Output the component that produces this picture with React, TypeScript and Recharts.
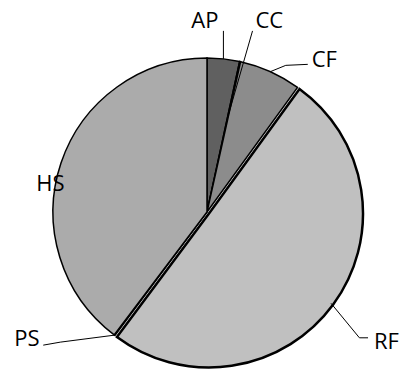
import React from "react";
import { PieChart, Pie, Cell } from "recharts";

// Slice order runs clockwise from 12 o'clock.
const CATEGORIES = ["AP", "CC", "CF", "RF", "PS", "HS"];
const SHARES = [3.4, 0.1, 6.5, 50.2, 0.1, 39.7];
const FILLS = ["#606060", "#3a3a3a", "#8c8c8c", "#c0c0c0", "#4a4a4a", "#ababab"];

const data = CATEGORIES.map((name, i) => ({ name, value: SHARES[i] }));

const RAD = Math.PI / 180;

// Label placement relative to the slice's point on the outer arc.
// leader: polyline points (offsets), text: [dx, dy, anchor]
type LabelSpec = {
  leader: [number, number][];
  text: [number, number, "start" | "middle" | "end"];
  inner?: number; // leader goes into the pie to this fraction of r
};
const LABELS: Record<string, LabelSpec> = {
  AP: { leader: [[0, -28]], text: [-5, -31, "end"] },
  CC: { leader: [[12.4, -30.7]], text: [15.4, -33.7, "start"], inner: 0.64 },
  CF: { leader: [[15.4, -6.3], [37.4, -7.3]], text: [41.4, -4.8, "start"] },
  RF: { leader: [[28.4, 34.5], [37, 34.5]], text: [43, 45.5, "start"] },
  PS: { leader: [[-54.3, 7], [-71.3, 10]], text: [-75, 11, "end"] },
  HS: { leader: [], text: [-10.5, 28, "middle"] },
};

function renderLabel(props: any) {
  const { cx, cy, midAngle, outerRadius, name } = props;
  const spec = LABELS[name];
  if (!spec) return null;
  const ax = cx + outerRadius * Math.cos(-midAngle * RAD);
  const ay = cy + outerRadius * Math.sin(-midAngle * RAD);
  const start = spec.inner
    ? [
        cx + outerRadius * spec.inner * Math.cos(-midAngle * RAD),
        cy + outerRadius * spec.inner * Math.sin(-midAngle * RAD),
      ]
    : [ax, ay];
  const pts = [start, ...spec.leader.map(([dx, dy]) => [ax + dx, ay + dy])];
  return (
    <g key={`lbl-${name}`}>
      {spec.leader.length > 0 && (
        <polyline
          points={pts.map((p) => p.join(",")).join(" ")}
          fill="none"
          stroke="#000"
          strokeWidth={1}
        />
      )}
      <text
        x={ax + spec.text[0]}
        y={ay + spec.text[1]}
        textAnchor={spec.text[2]}
        fontFamily="'Open Sans', sans-serif"
        fontSize={22}
        fill="#000"
      >
        {name}
      </text>
    </g>
  );
}

export default function App() {
  return (
    <div
      style={{
        position: "absolute",
        left: 0,
        top: 0,
        width: 402,
        height: 370,
        background: "#fff",
      }}
    >
      <PieChart width={402} height={370} margin={{ top: 0, right: 0, bottom: 0, left: 0 }}>
        <Pie
          data={data}
          dataKey="value"
          nameKey="name"
          cx={207}
          cy={212}
          outerRadius={154}
          startAngle={90}
          endAngle={-270}
          stroke="#000"
          strokeWidth={1.5}
          label={renderLabel}
          labelLine={false}
          isAnimationActive={false}
        >
          {data.map((d, i) =>
            d.name === "RF" ? (
              // exploded slightly, heavier outline
              <Cell
                key={d.name}
                fill={FILLS[i]}
                strokeWidth={2.5}
                style={{ transform: "translate(2px, 1.5px)" }}
              />
            ) : (
              <Cell key={d.name} fill={FILLS[i]} />
            )
          )}
        </Pie>
      </PieChart>
    </div>
  );
}
